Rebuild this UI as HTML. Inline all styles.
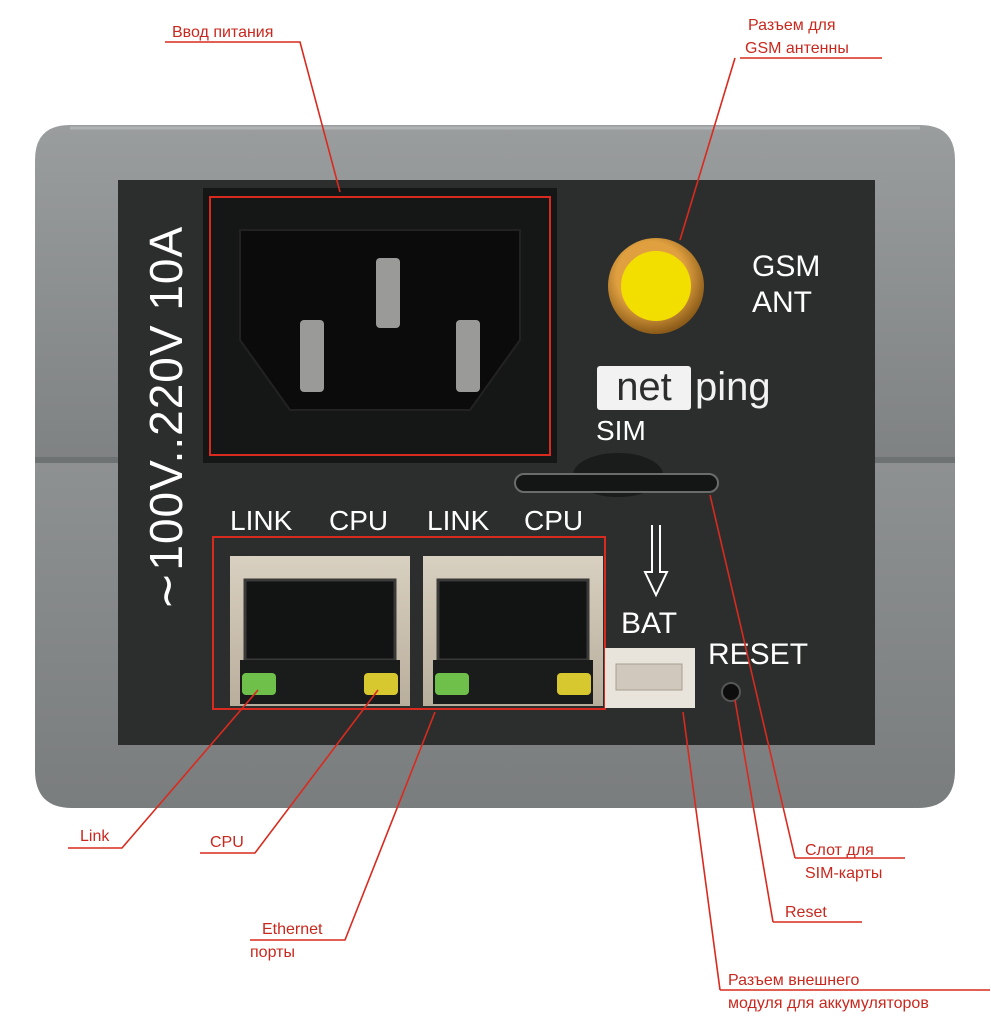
<!DOCTYPE html>
<html><head><meta charset="utf-8"><style>
html,body{margin:0;padding:0;background:#fff;}
svg{display:block;}
text{font-family:"Liberation Sans","DejaVu Sans",sans-serif;}
</style></head><body>
<svg width="991" height="1035" viewBox="0 0 991 1035" xmlns="http://www.w3.org/2000/svg">
<defs>
<linearGradient id="body" x1="0" y1="0" x2="0" y2="1">
<stop offset="0" stop-color="#9a9d9e"/><stop offset="1" stop-color="#7f8283"/></linearGradient>
<linearGradient id="body2" x1="0" y1="0" x2="0" y2="1">
<stop offset="0" stop-color="#8e9192"/><stop offset="1" stop-color="#7a7d7e"/></linearGradient>
<radialGradient id="gold" cx="0.45" cy="0.4" r="0.6">
<stop offset="0.6" stop-color="#e0a040"/><stop offset="1" stop-color="#8a5a18"/></radialGradient>
<linearGradient id="port" x1="0" y1="0" x2="0" y2="1">
<stop offset="0" stop-color="#d8d0c0"/><stop offset="1" stop-color="#b8ae9c"/></linearGradient>
</defs>
<path d="M70,125 L920,125 Q955,125 955,160 L955,460 L35,460 L35,160 Q35,125 70,125 Z" fill="url(#body)"/>
<path d="M70,128 L920,128" stroke="#b0b3b4" stroke-width="3"/>
<path d="M35,460 L955,460 L955,770 Q955,808 918,808 L72,808 Q35,808 35,770 Z" fill="url(#body2)"/>
<rect x="35" y="457" width="920" height="6" fill="#6f7273"/>
<rect x="118" y="180" width="757" height="565" fill="#2b2e2d"/>
<rect x="203" y="188" width="354" height="275" fill="#151616"/>
<path d="M240,230 L520,230 L520,340 L470,410 L290,410 L240,340 Z" fill="#0b0b0b" stroke="#222" stroke-width="2"/>
<rect x="376" y="258" width="24" height="70" rx="4" fill="#9a9a98"/>
<rect x="300" y="320" width="24" height="72" rx="4" fill="#9a9a98"/>
<rect x="456" y="320" width="24" height="72" rx="4" fill="#9a9a98"/>
<rect x="210" y="197" width="340" height="258" fill="none" stroke="#d92a1f" stroke-width="2"/>
<text transform="translate(182,418) rotate(-90)" text-anchor="middle" fill="#fff" font-size="46" letter-spacing="1">∼100V..220V 10A</text>
<circle cx="656" cy="286" r="48" fill="url(#gold)"/>
<circle cx="656" cy="286" r="35" fill="#f2df00"/>
<text x="752" y="276" fill="#fff" font-size="30">GSM</text>
<text x="752" y="312" fill="#fff" font-size="30">ANT</text>
<rect x="597" y="366" width="94" height="44" rx="3" fill="#f2f2f2"/>
<text x="644" y="400" text-anchor="middle" fill="#2b2e2d" font-size="40">net</text>
<text x="695" y="400" fill="#f2f2f2" font-size="40">ping</text>
<text x="596" y="440" fill="#fff" font-size="28">SIM</text>
<ellipse cx="618" cy="475" rx="45" ry="22" fill="#1a1b1b"/>
<rect x="515" y="474" width="203" height="18" rx="9" fill="#141515" stroke="#6a6c6b" stroke-width="2"/>
<text x="230" y="530" fill="#fff" font-size="28">LINK</text>
<text x="329" y="530" fill="#fff" font-size="28">CPU</text>
<text x="427" y="530" fill="#fff" font-size="28">LINK</text>
<text x="524" y="530" fill="#fff" font-size="28">CPU</text>
<g>
<rect x="230" y="556" width="180" height="150" fill="url(#port)"/>
<rect x="245" y="580" width="150" height="80" fill="#121313" stroke="#3a3a38" stroke-width="3"/>
<rect x="240" y="660" width="160" height="44" fill="#1a1b1b"/>
<rect x="242" y="673" width="34" height="22" rx="4" fill="#6fc04a"/>
<rect x="364" y="673" width="34" height="22" rx="4" fill="#d8c830"/>
</g>
<g transform="translate(193,0)">
<rect x="230" y="556" width="180" height="150" fill="url(#port)"/>
<rect x="245" y="580" width="150" height="80" fill="#121313" stroke="#3a3a38" stroke-width="3"/>
<rect x="240" y="660" width="160" height="44" fill="#1a1b1b"/>
<rect x="242" y="673" width="34" height="22" rx="4" fill="#6fc04a"/>
<rect x="364" y="673" width="34" height="22" rx="4" fill="#d8c830"/>
</g>
<rect x="213" y="537" width="392" height="172" fill="none" stroke="#d92a1f" stroke-width="2"/>
<path d="M652,525 L652,572 L645,572 L656,595 L667,572 L660,572 L660,525" fill="none" stroke="#fff" stroke-width="2"/>
<text x="621" y="633" fill="#fff" font-size="30">BAT</text>
<rect x="605" y="648" width="90" height="60" fill="#e8e4dc"/>
<rect x="616" y="664" width="66" height="26" fill="#d0c8bc" stroke="#a89e90"/>
<text x="708" y="664" fill="#fff" font-size="30">RESET</text>
<circle cx="731" cy="692" r="9" fill="#0d0d0d" stroke="#555" stroke-width="2"/>
<g stroke="#d92a1f" stroke-width="1.6" fill="none">
<path d="M165,42 L300,42 L340,192"/>
<path d="M740,58 L882,58"/><path d="M735,58 L680,240"/>
<path d="M68,848 L122,848 L258,690"/>
<path d="M200,853 L255,853 L378,690"/>
<path d="M250,940 L345,940 L435,712"/>
<path d="M795,858 L905,858"/><path d="M795,858 L710,495"/>
<path d="M773,922 L862,922"/><path d="M773,922 L735,700"/>
<path d="M720,990 L990,990"/><path d="M720,990 L683,712"/>
</g>
<g fill="#c8281e" font-size="16">
<text x="172" y="37">Ввод питания</text>
<text x="748" y="30">Разъем для</text>
<text x="745" y="53">GSM антенны</text>
<text x="80" y="841">Link</text>
<text x="210" y="847">CPU</text>
<text x="262" y="934">Ethernet</text>
<text x="250" y="957">порты</text>
<text x="805" y="855">Слот для</text>
<text x="805" y="878">SIM-карты</text>
<text x="785" y="917">Reset</text>
<text x="728" y="985">Разъем внешнего</text>
<text x="728" y="1008">модуля для аккумуляторов</text>
</g>
</svg>
</body></html>
